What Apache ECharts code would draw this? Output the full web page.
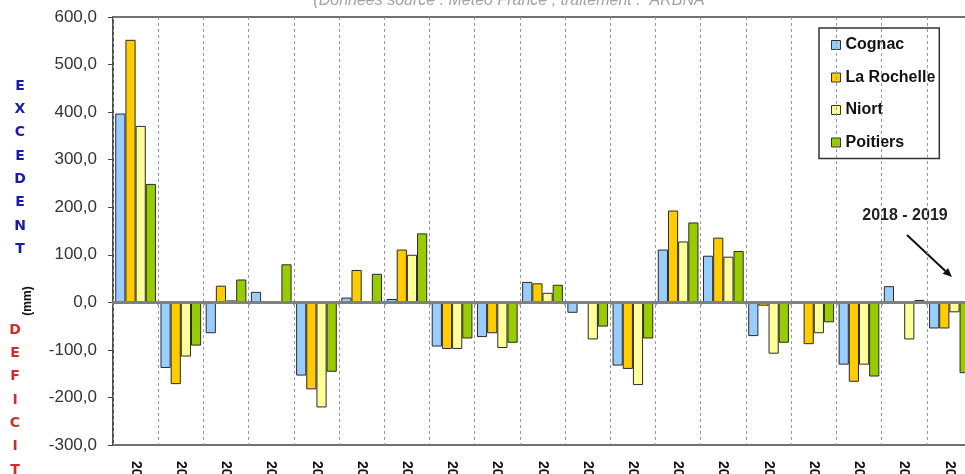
<!DOCTYPE html>
<html>
<head>
<meta charset="utf-8">
<script src="https://cdn.jsdelivr.net/npm/echarts@6/dist/echarts.min.js"></script>
<style>
html,body{margin:0;padding:0;background:#fff;}
#chart{width:965px;height:474px;}
</style>
</head>
<body>
<div id="chart"></div>
<script>
const categories = ["2000 - 2001","2001 - 2002","2002 - 2003","2003 - 2004","2004 - 2005","2005 - 2006","2006 - 2007","2007 - 2008","2008 - 2009","2009 - 2010","2010 - 2011","2011 - 2012","2012 - 2013","2013 - 2014","2014 - 2015","2015 - 2016","2016 - 2017","2017 - 2018","2018 - 2019"];
const seriesNames = ["Cognac","La Rochelle","Niort","Poitiers"];
const cognac     = [397, -138, -65, 22, -154, 10, 7, -93, -73, 43, -22, -133, 111, 98, -71, null, -131, 34, -55];
const laRochelle = [552, -172, 35, null, -183, 68, 111, -98, -65, 40, null, -140, 193, 136, -7, -88, -167, null, -55];
const niort      = [371, -114, 4, null, -221, null, 100, -98, -96, 20, -78, -174, 128, 96, -108, -65, -131, -78, -21];
const poitiers   = [249, -91, 48, 80, -146, 60, 145, -76, -85, 37, -51, -76, 168, 108, -85, -42, -156, 5, -149];
const colors = ["#99CCFF","#FFCC00","#FFFF99","#99CC00"];
const titleText = "(Données source : Météo France ; traitement :  ARBNA";
const annotationText = "2018 - 2019";

const chart = echarts.init(document.getElementById('chart'), null, {renderer:'canvas'});
const allData = [cognac, laRochelle, niort, poitiers];

const series = seriesNames.map((name, i) => ({
  name: name,
  type: 'bar',
  xAxisIndex: 0,
  data: allData[i],
  barGap: '0%',
  barCategoryGap: '10%',
  itemStyle: {color: colors[i], borderColor: '#2a2a2a', borderWidth: 1},
  emphasis: {disabled: true},
  animation: false
}));

const FONT = '"Liberation Sans", Arial, sans-serif';

const option = {
  animation: false,
  grid: {left: 113, right: -7, top: 17, bottom: 29, containLabel: false, outerBoundsMode: 'none', show: true, borderColor: '#444', borderWidth: 1.5, backgroundColor: 'transparent'},
  legend: {
    orient: 'vertical',
    left: 819, top: 28,
    data: seriesNames,
    icon: 'rect',
    itemWidth: 9, itemHeight: 9,
    itemGap: 14.5,
    padding: [8, 4, 7, 12],
    borderColor: '#333', borderWidth: 1.5,
    backgroundColor: '#fff',
    itemStyle: {borderColor: '#333', borderWidth: 1},
    textStyle: {fontFamily: FONT, fontWeight: 'bold', fontSize: 16, color: '#111', lineHeight: 18}
  },
  xAxis: [
    {
      type: 'category', data: categories, position: 'bottom',
      axisLine: {onZero: true, lineStyle: {color: '#808080', width: 3}},
      axisTick: {show: true, interval: 0, length: 3, lineStyle: {color: '#808080', width: 1.5}},
      axisLabel: {show: false, interval: 0},
      splitLine: {show: true, interval: 0, lineStyle: {color: '#999', width: 1, type: [3, 3]}},
      z: 5
    },
    {
      type: 'category', data: categories, position: 'bottom',
      axisLine: {show: false, onZero: false},
      axisTick: {show: false},
      splitLine: {show: false},
      axisLabel: {rotate: -90, margin: 16, fontFamily: FONT, fontWeight: 'bold', fontSize: 14, color: '#111', interval: 0}
    }
  ],
  yAxis: {
    type: 'value', min: -300, max: 600, interval: 100,
    axisLine: {show: true, lineStyle: {color: '#444', width: 1.5}},
    axisTick: {show: true, length: 5, lineStyle: {color: '#444', width: 1}},
    splitLine: {show: false},
    axisLabel: {
      margin: 16, fontFamily: FONT, fontSize: 17, color: '#333',
      formatter: v => v.toFixed(1).replace('.', ',')
    }
  },
  series: series,
  graphic: [
    {type: 'text', style: {text: titleText, x: 509, y: 1, align: 'center', verticalAlign: 'middle', font: 'italic 16px "Liberation Sans", Arial, sans-serif', fill: '#a3a3a3'}},
    {type: 'text', style: {text: 'E\nX\nC\nE\nD\nE\nN\nT', x: 20, y: 74.5, align: 'center', verticalAlign: 'top', lineHeight: 23.3, font: 'bold 14px "DejaVu Sans", Verdana, sans-serif', fill: '#1a1aa8'}},
    {type: 'text', style: {text: 'D\nE\nF\nI\nC\nI\nT', x: 15, y: 318.5, align: 'center', verticalAlign: 'top', lineHeight: 23.3, font: 'bold 14px "DejaVu Sans", Verdana, sans-serif', fill: '#d42a2a'}},
    {type: 'text', x: 27.5, y: 301, rotation: Math.PI / 2, style: {text: '(mm)', x: 0, y: 0, align: 'center', verticalAlign: 'middle', font: 'bold 12px "Liberation Sans", Arial, sans-serif', fill: '#111'}},
    {type: 'text', style: {text: annotationText, x: 905, y: 216, align: 'center', verticalAlign: 'middle', font: 'bold 16px "Liberation Sans", Arial, sans-serif', fill: '#222'}},
    {type: 'line', shape: {x1: 907, y1: 235, x2: 945.4, y2: 270.9}, style: {stroke: '#111', lineWidth: 2}},
    {type: 'polygon', shape: {points: [[952, 277], [942.7, 273.8], [948.1, 268.0]]}, style: {fill: '#111'}}
  ]
};
chart.setOption(option);
</script>
</body>
</html>
